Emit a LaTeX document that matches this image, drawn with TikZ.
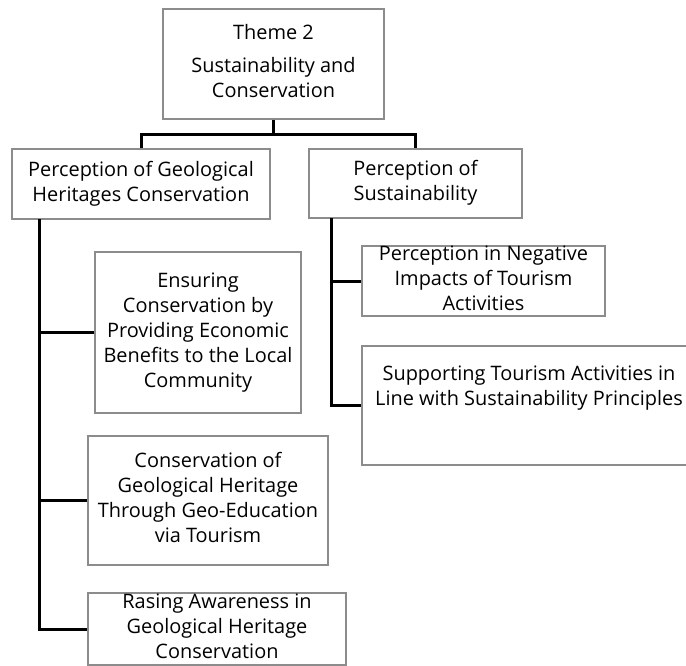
\documentclass[tikz,border=0pt]{standalone}
\usepackage{fontspec}
\setmainfont{Open Sans}
\begin{document}
\begin{tikzpicture}[x=1bp,y=-1bp,
  box/.style={draw=black!45,line width=1.1bp,inner sep=0pt,fill=white,
    font=\fontsize{20}{25}\selectfont},
  conn/.style={line width=3bp,black},
]
\useasboundingbox (0,0) rectangle (686,666);
\newcommand{\boxtext}[2][0bp]{\smash{\raisebox{\dimexpr#1-5bp\relax}{\begin{tabular}{@{}c@{}}#2\end{tabular}}}}
\node[box,minimum width=221bp,minimum height=110bp] (theme) at (273.5,64) {\boxtext{Theme 2\\[8bp]Sustainability and\\Conservation}};
\node[box,minimum width=258bp,minimum height=70bp] (geo) at (141,184) {\boxtext{Perception of Geological\\Heritages Conservation}};
\node[box,minimum width=213bp,minimum height=69bp] (sus) at (415.5,183.5) {\boxtext{Perception of\\Sustainability}};
\node[box,minimum width=206bp,minimum height=161bp] (ens) at (198,332.5) {\boxtext{Ensuring\\Conservation by\\Providing Economic\\Benefits to the Local\\Community}};
\node[box,minimum width=240bp,minimum height=129bp] (cons) at (208,500.5) {\boxtext{Conservation of\\Geological Heritage\\Through Geo-Education\\via Tourism}};
\node[box,minimum width=258bp,minimum height=72bp] (rais) at (217,629) {\boxtext{Rasing Awareness in\\Geological Heritage\\Conservation}};
\node[box,minimum width=243bp,minimum height=70bp] (neg) at (483.5,281) {\boxtext{Perception in Negative\\Impacts of Tourism\\Activities}};
\node[box,minimum width=334bp,minimum height=119bp] (supp) at (529,405.5) {\boxtext[17bp]{Supporting Tourism Activities in\\Line with Sustainability Principles}};
\coordinate (bus) at (273.5,134);
\coordinate (lv) at (39,219);
\coordinate (rv) at (331,218);
\draw[conn] (theme.south) -- (bus);
\draw[conn] (geo.north) |- (bus) -| (sus.north);
\draw[conn] (lv) |- (ens.west);
\draw[conn] (lv) |- (cons.west);
\draw[conn] (lv) |- (rais.west);
\draw[conn] (rv) |- (neg.west);
\draw[conn] (rv) |- (supp.west);
\end{tikzpicture}
\end{document}
